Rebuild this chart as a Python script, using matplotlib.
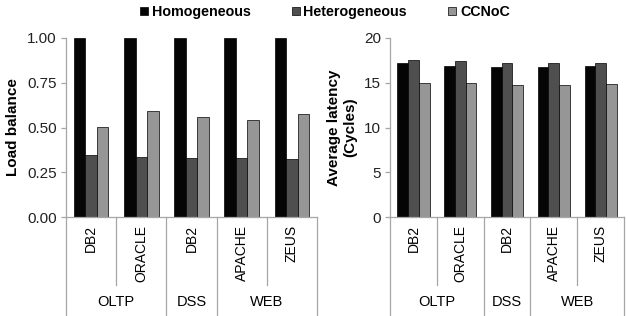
import numpy as np
import matplotlib.pyplot as plt
from matplotlib.patches import Patch

plt.rcParams['font.family'] = ['Liberation Sans', 'DejaVu Sans']

# data
workloads = ["DB2", "ORACLE", "DB2", "APACHE", "ZEUS"]
groups = ["OLTP", "DSS", "WEB"]
group_sizes = [2, 1, 2]
series = ["Homogeneous", "Heterogeneous", "CCNoC"]

load_homo = [1.0, 1.0, 1.0, 1.0, 1.0]
load_hetero = [0.347, 0.335, 0.330, 0.330, 0.324]
load_ccnoc = [0.503, 0.590, 0.556, 0.543, 0.578]

lat_homo = [17.15, 16.9, 16.8, 16.75, 16.9]
lat_hetero = [17.57, 17.4, 17.15, 17.2, 17.25]
lat_ccnoc = [14.93, 14.93, 14.72, 14.77, 14.83]

colors = ["#050505", "#4f4f4f", "#969696"]
axis_gray = "#a6a6a6"

fig = plt.figure(figsize=(6.26, 3.16), dpi=100)
ax1 = fig.add_axes([0.1054, 0.313, 0.401, 0.567])
ax2 = fig.add_axes([0.623, 0.313, 0.374, 0.567])


def draw_panel(ax, vals, ylim, yticks, ytick_fmt, ylabel):
    x = np.arange(len(workloads)) + 0.5
    w = 0.23
    for k, v in enumerate(vals):
        ax.bar(x + (k - 1) * w, v, width=w, color=colors[k],
               edgecolor="black", linewidth=0.5, zorder=2)
    ax.set_xlim(0, len(workloads))
    ax.set_ylim(*ylim)
    ax.set_yticks(yticks)
    ax.set_yticklabels([ytick_fmt.format(t) for t in yticks], fontsize=11, color="#222222")
    ax.set_xticks([])
    for s in ["top", "right"]:
        ax.spines[s].set_visible(False)
    for s in ["left", "bottom"]:
        ax.spines[s].set_color(axis_gray)
        ax.spines[s].set_linewidth(0.9)
    ax.tick_params(axis="y", direction="out", length=3.5, color=axis_gray, width=0.9, pad=3)
    ax.set_ylabel(ylabel, fontsize=11, fontweight="bold", labelpad=5)

    trans = ax.get_xaxis_transform()
    # workload labels
    for i, name in enumerate(workloads):
        ax.text(i + 0.5, -0.045, name, rotation=90, ha="center", va="top",
                fontsize=10, transform=trans, clip_on=False)
    # separators: inner ones short, group borders long
    borders = np.concatenate([[0], np.cumsum(group_sizes)])
    for b in range(len(workloads) + 1):
        y_end = -0.553 if b in borders else -0.38
        ax.plot([b, b], [0, y_end], color=axis_gray, lw=0.9,
                transform=trans, clip_on=False)
    for g, name in enumerate(groups):
        mid = (borders[g] + borders[g + 1]) / 2
        ax.text(mid, -0.475, name, ha="center", va="center", fontsize=10.5,
                transform=trans, clip_on=False)


draw_panel(ax1, [load_homo, load_hetero, load_ccnoc], (0, 1.0),
           [0, 0.25, 0.5, 0.75, 1.0], "{:.2f}", "Load balance")
draw_panel(ax2, [lat_homo, lat_hetero, lat_ccnoc], (0, 20),
           [0, 5, 10, 15, 20], "{:.0f}", "Average latency\n(Cycles)")

handles = [Patch(facecolor=c, edgecolor="black", linewidth=0.5) for c in colors]
fig.legend(handles, series, loc="center", bbox_to_anchor=(0.519, 0.962), ncol=3,
           frameon=False, prop={"weight": "bold", "size": 10.3},
           handlelength=0.55, handleheight=0.55, handletextpad=0.25,
           columnspacing=2.9, borderpad=0)

fig.savefig("out.png", dpi=100)
